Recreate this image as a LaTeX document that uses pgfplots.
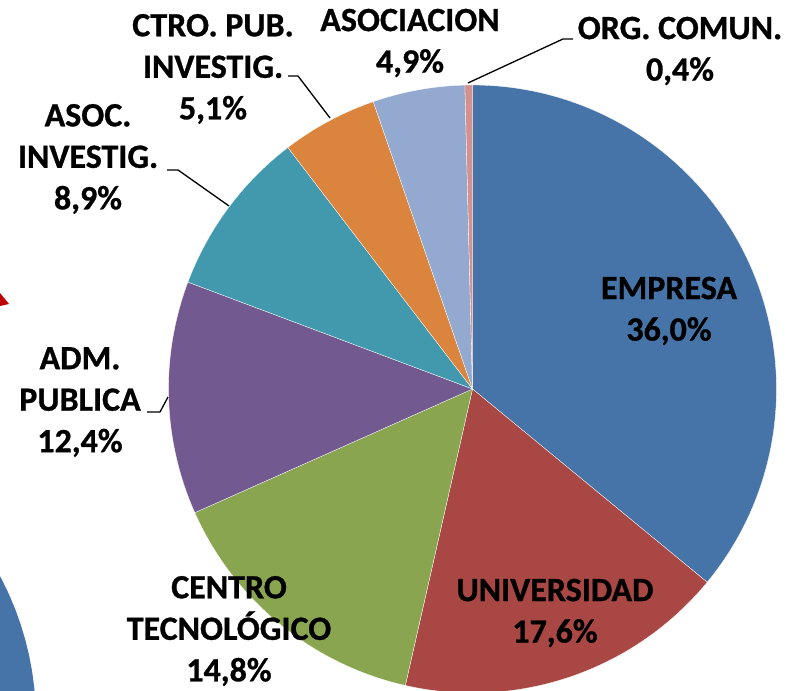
\documentclass[border=0pt]{standalone}
\usepackage{pgfplots}
\pgfplotsset{compat=1.18}
\usepackage{fontspec}
\setmainfont{Carlito}[BoldFeatures={FakeBold=0.8}]

\definecolor{cEmp}{HTML}{4674A8}
\definecolor{cUni}{HTML}{A84744}
\definecolor{cCen}{HTML}{89A54F}
\definecolor{cAdm}{HTML}{725990}
\definecolor{cAsI}{HTML}{4299AE}
\definecolor{cCtr}{HTML}{DA843E}
\definecolor{cAso}{HTML}{93A9CF}
\definecolor{cOrg}{HTML}{D39290}

\tikzset{lbl/.style={font=\fontsize{34}{41.5}\selectfont\bfseries, align=center, text=black, inner sep=0pt}}

% pie centre and radius (axis units = px of the reference)
\def\cx{472.5}
\def\cy{302}
\def\rr{304}
% one wedge: cumulative start %, cumulative end %, colour  (total = 100.1)
\newcommand{\slice}[3]{%
  \addplot[fill=#3, draw=white, line width=0.3pt, domain={90-#2*360/100.1}:{90-#1*360/100.1},
    samples=120, variable=\t]
    ({\cx+\rr*cos(\t)}, {\cy+\rr*sin(\t)}) -- (axis cs:\cx,\cy) -- cycle;
}

\begin{document}
\begin{tikzpicture}
\begin{axis}[
    scale only axis, width=796pt, height=691pt,
    xmin=0, xmax=796, ymin=0, ymax=691,
    hide axis, clip=true,
  ]
  % shapes cut off at the left edge
  \addplot[fill=cEmp, draw=none, domain=0:360, samples=120, variable=\t]
    ({-270+306*cos(\t)}, {-29+306*sin(\t)}) -- cycle;
  \addplot[fill=red!75!black, draw=none] coordinates {(0,398) (9,387) (0,385)} -- cycle;

  % slices, clockwise from the top
  \slice{0}{36.0}{cEmp}        % EMPRESA
  \slice{36.0}{53.6}{cUni}     % UNIVERSIDAD
  \slice{53.6}{68.4}{cCen}     % CENTRO TECNOLOGICO
  \slice{68.4}{80.8}{cAdm}     % ADM. PUBLICA
  \slice{80.8}{89.7}{cAsI}     % ASOC. INVESTIG.
  \slice{89.7}{94.8}{cCtr}     % CTRO. PUB. INVESTIG.
  \slice{94.8}{99.7}{cAso}     % ASOCIACION
  \slice{99.7}{100.1}{cOrg}    % ORG. COMUN.

  % leader lines
  \draw[black, line width=1.3pt] (axis cs:288,615) -- (axis cs:298,615) -- (axis cs:330,573);
  \draw[black, line width=1.3pt] (axis cs:573,652) -- (axis cs:563,652) -- (axis cs:468,608);
  \draw[black, line width=1.3pt] (axis cs:167,521) -- (axis cs:178,521) -- (axis cs:229,485);
  \draw[black, line width=1.3pt] (axis cs:147,279) -- (axis cs:160,279) -- (axis cs:168,294);

  % labels
  \node[lbl] at (axis cs:669,380) {EMPRESA\\36,0\%};
  \node[lbl] at (axis cs:555,78) {UNIVERSIDAD\\17,6\%};
  \node[lbl] at (axis cs:229,60) {CENTRO\\TECNOLÓGICO\\14,8\%};
  \node[lbl] at (axis cs:80,289) {ADM.\\PUBLICA\\12,4\%};
  \node[lbl] at (axis cs:88,532) {ASOC.\\INVESTIG.\\8,9\%};
  \node[lbl] at (axis cs:213,622) {CTRO. PUB.\\INVESTIG.\\5,1\%};
  \node[lbl] at (axis cs:410,648) {ASOCIACION\\4,9\%};
  \node[lbl] at (axis cs:680,640) {ORG. COMUN.\\0,4\%};
\end{axis}
\pgfresetboundingbox
\useasboundingbox (0,0) rectangle (796pt,691pt);
\end{tikzpicture}
\end{document}
